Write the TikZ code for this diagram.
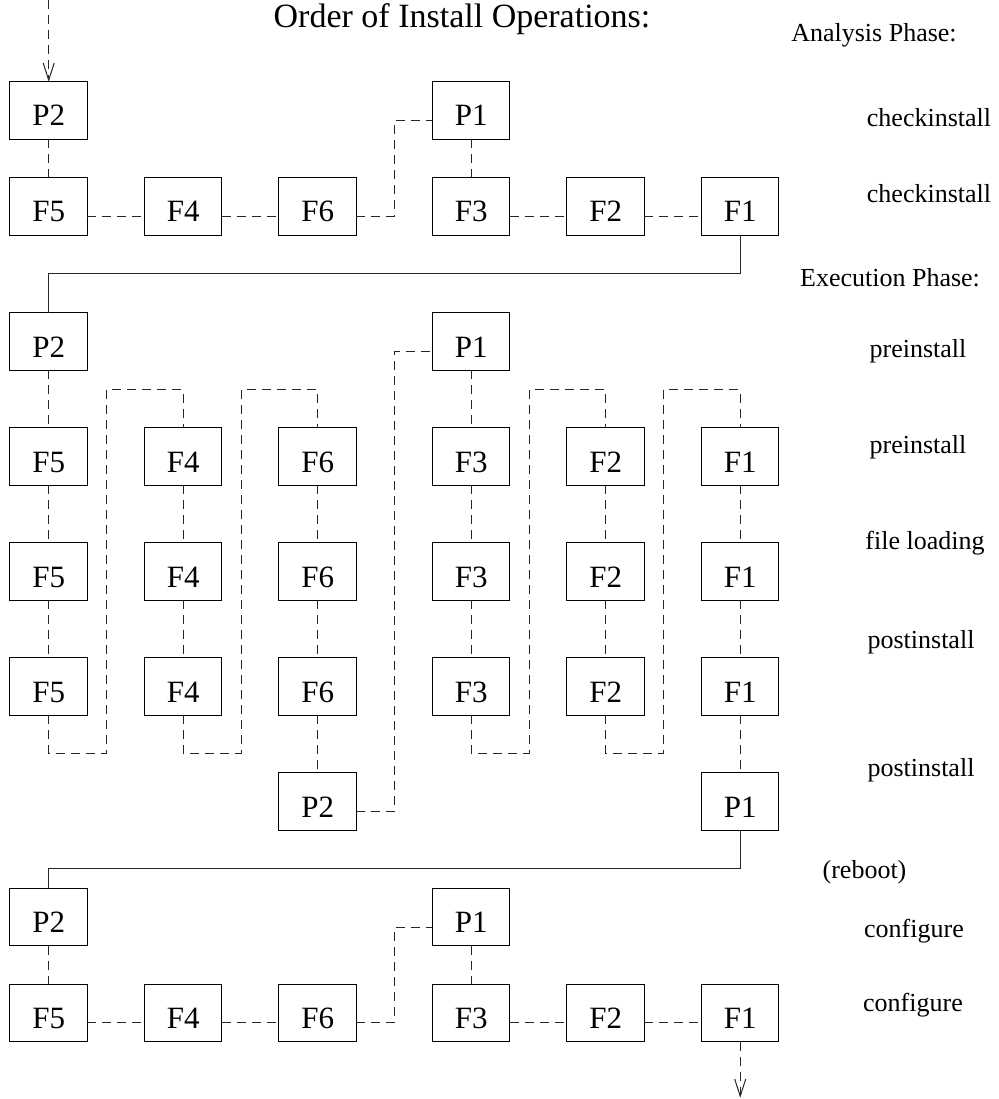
\documentclass[tikz,border=0pt]{standalone}
\usepackage{fontspec}
\setmainfont{Liberation Serif}
\usetikzlibrary{arrows.meta,positioning}

\begin{document}
\begin{tikzpicture}[x=1pt,y=-1pt,
  node distance=57.5pt and 57pt,
  box/.style={draw,line width=1pt,minimum width=77.5pt,minimum height=57.5pt,
              inner sep=0pt,outer sep=0pt,text height=31pt,text depth=0pt,
              font=\fontsize{31}{31}\selectfont},
  phase/.style={anchor=base,font=\fontsize{26}{26}\selectfont},
  link/.style={draw=black!85,line width=1pt,dash pattern=on 9pt off 6pt},
  jump/.style={draw=black!85,line width=1pt},
  >={Straight Barb[length=17pt,width=11pt]}]
\useasboundingbox (0,0) rectangle (998,1099);

% headings and phase names
\node[anchor=base,font=\fontsize{34}{34}\selectfont] (title) at (462,28) {Order of Install Operations:};
\node[phase] (analysis) at (874,41.5) {Analysis Phase:};
\node[phase] (chk1) at (929,127) {checkinstall};
\node[phase] (chk2) at (929,203) {checkinstall};
\node[phase] (execution) at (890,286) {Execution Phase:};
\node[phase] (pre1lbl) at (918,357) {preinstall};
\node[phase] (pre2lbl) at (918,453) {preinstall};
\node[phase] (loadlbl) at (925,549) {file loading};
\node[phase] (post1lbl) at (921,648) {postinstall};
\node[phase] (post2lbl) at (921,776) {postinstall};
\node[phase] (reboot) at (864.5,878) {(reboot)};
\node[phase] (cfg1) at (914,937) {configure};
\node[phase] (cfg2) at (913,1011) {configure};

% analysis phase
\node[box] (pa2) at (48.7,110.5) {P2};
\node[box,below=38.5pt of pa2] (fa5) {F5};
\node[box,right=of fa5] (fa4) {F4};
\node[box,right=of fa4] (fa6) {F6};
\node[box,right=76pt of fa6] (fa3) {F3};
\node[box,right=of fa3] (fa2) {F2};
\node[box,right=of fa2] (fa1) {F1};
\node[box,above=38.5pt of fa3] (pa1) {P1};

% execution phase
\node[box] (pe2) at (48.7,341.5) {P2};
\node[box,below=of pe2] (pre5) {F5};
\node[box,right=of pre5] (pre4) {F4};
\node[box,right=of pre4] (pre6) {F6};
\node[box,right=76pt of pre6] (pre3) {F3};
\node[box,right=of pre3] (pre2) {F2};
\node[box,right=of pre2] (pre1) {F1};
\node[box,above=of pre3] (pe1) {P1};
\node[box,below=of pre5] (load5) {F5};
\node[box,below=of pre4] (load4) {F4};
\node[box,below=of pre6] (load6) {F6};
\node[box,below=of pre3] (load3) {F3};
\node[box,below=of pre2] (load2) {F2};
\node[box,below=of pre1] (load1) {F1};
\node[box,below=of load5] (post5) {F5};
\node[box,below=of load4] (post4) {F4};
\node[box,below=of load6] (post6) {F6};
\node[box,below=of load3] (post3) {F3};
\node[box,below=of load2] (post2) {F2};
\node[box,below=of load1] (post1) {F1};
\node[box,below=of post6] (pp2) {P2};
\node[box,below=of post1] (pp1) {P1};

% configure after reboot
\node[box] (pc2) at (48.7,917) {P2};
\node[box,below=38.5pt of pc2] (fc5) {F5};
\node[box,right=of fc5] (fc4) {F4};
\node[box,right=of fc4] (fc6) {F6};
\node[box,right=76pt of fc6] (fc3) {F3};
\node[box,right=of fc3] (fc2) {F2};
\node[box,right=of fc2] (fc1) {F1};
\node[box,above=38.5pt of fc3] (pc1) {P1};

\coordinate (entry) at (48.7,0);
\coordinate[below=56pt of fc1.south] (exit);

% analysis chain
\draw[link,->] (entry) -- (pa2.north);
\draw[link] (pa2) -- (fa5);
\draw[link] ([yshift=-9.7pt]fa5.east) -- ([yshift=-9.7pt]fa4.west);
\draw[link] ([yshift=-9.7pt]fa4.east) -- ([yshift=-9.7pt]fa6.west);
\draw[link] ([yshift=-9.7pt]fa6.east) -- ++(38pt,0) |- ([yshift=-10pt]pa1.west);
\draw[link] (pa1) -- (fa3);
\draw[link] ([yshift=-9.7pt]fa3.east) -- ([yshift=-9.7pt]fa2.west);
\draw[link] ([yshift=-9.7pt]fa2.east) -- ([yshift=-9.7pt]fa1.west);
\draw[jump] (fa1.south) -- ++(0,-38.5pt) -| (pe2.north);

% execution chain
\draw[link] (pe2) -- (pre5) -- (load5) -- (post5);
\draw[link] (post5.south) -- ++(0,-38pt) -- ++(58pt,0) |- ([yshift=38pt]pre4.north) -- (pre4.north);
\draw[link] (pre4) -- (load4) -- (post4);
\draw[link] (post4.south) -- ++(0,-38pt) -- ++(58pt,0) |- ([yshift=38pt]pre6.north) -- (pre6.north);
\draw[link] (pre6) -- (load6) -- (post6) -- (pp2);
\draw[link] ([yshift=-10pt]pp2.east) -- ++(38pt,0) |- ([yshift=-10pt]pe1.west);
\draw[link] (pe1) -- (pre3) -- (load3) -- (post3);
\draw[link] (post3.south) -- ++(0,-38pt) -- ++(58pt,0) |- ([yshift=38pt]pre2.north) -- (pre2.north);
\draw[link] (pre2) -- (load2) -- (post2);
\draw[link] (post2.south) -- ++(0,-38pt) -- ++(58pt,0) |- ([yshift=38pt]pre1.north) -- (pre1.north);
\draw[link] (pre1) -- (load1) -- (post1) -- (pp1);
\draw[jump] (pp1.south) -- ++(0,-38.5pt) -| (pc2.north);

% configure chain
\draw[link] (pc2) -- (fc5);
\draw[link] ([yshift=-9.7pt]fc5.east) -- ([yshift=-9.7pt]fc4.west);
\draw[link] ([yshift=-9.7pt]fc4.east) -- ([yshift=-9.7pt]fc6.west);
\draw[link] ([yshift=-9.7pt]fc6.east) -- ++(38pt,0) |- ([yshift=-10pt]pc1.west);
\draw[link] (pc1) -- (fc3);
\draw[link] ([yshift=-9.7pt]fc3.east) -- ([yshift=-9.7pt]fc2.west);
\draw[link] ([yshift=-9.7pt]fc2.east) -- ([yshift=-9.7pt]fc1.west);
\draw[link,->] (fc1.south) -- (exit);
\end{tikzpicture}
\end{document}
